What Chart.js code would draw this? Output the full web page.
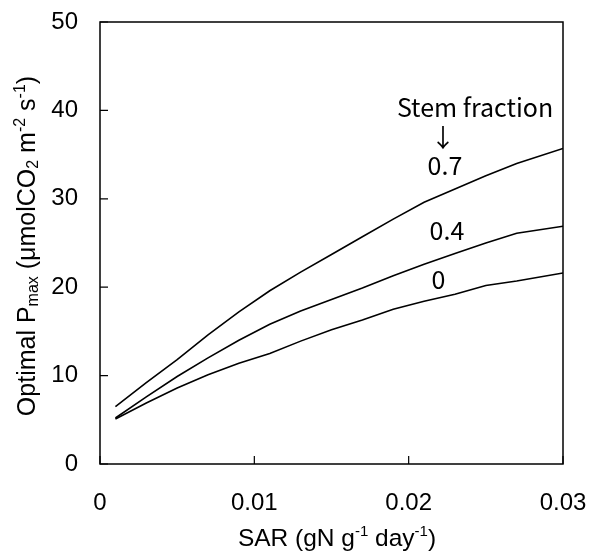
<!DOCTYPE html>
<html>
<head>
<meta charset="utf-8">
<script src="https://cdn.jsdelivr.net/npm/chart.js@4.4.1/dist/chart.umd.min.js"></script>
<style>
  html, body { margin: 0; padding: 0; background: #fff; }
  #wrap { width: 592px; height: 551px; }
</style>
</head>
<body>
<div id="wrap"><canvas id="c" width="592" height="551"></canvas></div>
<script>
// ---- data ----
const sar = [0.001, 0.003, 0.005, 0.007, 0.009, 0.011, 0.013, 0.015, 0.017, 0.019, 0.021, 0.023, 0.025, 0.027, 0.030];
const stem07 = [6.5, 9.2, 11.8, 14.6, 17.2, 19.6, 21.7, 23.7, 25.7, 27.7, 29.6, 31.1, 32.6, 34.0, 35.7];
const stem04 = [5.2, 7.6, 9.9, 12.0, 14.0, 15.8, 17.3, 18.6, 19.9, 21.3, 22.6, 23.8, 25.0, 26.1, 26.9];
const stem00 = [5.1, 6.9, 8.6, 10.1, 11.4, 12.5, 13.9, 15.2, 16.3, 17.5, 18.4, 19.2, 20.2, 20.7, 21.6];
const seriesLabels = ['0.7', '0.4', '0'];
const xTickLabels = ['0', '0.01', '0.02', '0.03'];
const yTickLabels = ['0', '10', '20', '30', '40', '50'];
const annotationTitle = 'Stem fraction';
const annotationArrow = '↓';
// label anchor positions in data units [x, y]
const labelPos = [[0.02235, 32.7], [0.02248, 25.3], [0.02193, 19.8]];
const titlePos = [0.0243, 39.25];
const arrowPos = [0.02222, 35.9];

const xTitle = [{t:'SAR (gN g'},{t:'-1',sup:true},{t:' day'},{t:'-1',sup:true},{t:')'}];
const yTitle = [{t:'Optimal P'},{t:'max',sub:true},{t:' (μmolCO'},{t:'2',sub:true},{t:' m'},{t:'-2',sup:true},{t:' s'},{t:'-1',sup:true},{t:')'}];

const toPts = (ys) => sar.map((x, i) => ({x: x, y: ys[i]}));

const FONT = '"Liberation Sans", Arial, sans-serif';
const LFONT = '"Noto Sans CJK JP", "Liberation Sans", sans-serif';

function drawRich(ctx, segs, size, x, y) {
  const small = Math.round(size * 0.62);
  let total = 0;
  segs.forEach(s => {
    ctx.font = (s.sub || s.sup ? small : size) + 'px ' + FONT;
    s.w = ctx.measureText(s.t).width;
    total += s.w;
  });
  let cx = x - total / 2;
  segs.forEach(s => {
    ctx.font = (s.sub || s.sup ? small : size) + 'px ' + FONT;
    let dy = 0;
    if (s.sup) dy = -size * 0.42;
    if (s.sub) dy = size * 0.12;
    ctx.fillText(s.t, cx, y + dy);
    cx += s.w;
  });
}

const decor = {
  id: 'decor',
  afterDraw(chart) {
    const ctx = chart.ctx;
    const a = chart.chartArea;
    const xs = chart.scales.x, ys = chart.scales.y;
    ctx.save();
    ctx.strokeStyle = '#000';
    ctx.lineWidth = 1.5;
    ctx.strokeRect(a.left, a.top, a.right - a.left, a.bottom - a.top);
    // inward ticks
    ctx.lineWidth = 1.2;
    ctx.beginPath();
    xs.ticks.forEach(t => {
      const px = xs.getPixelForValue(t.value);
      ctx.moveTo(px, a.bottom); ctx.lineTo(px, a.bottom - 8);
    });
    ys.ticks.forEach(t => {
      const py = ys.getPixelForValue(t.value);
      ctx.moveTo(a.left, py); ctx.lineTo(a.left + 8, py);
    });
    ctx.stroke();
    // axis titles
    ctx.fillStyle = '#000';
    ctx.textAlign = 'left';
    ctx.textBaseline = 'alphabetic';
    drawRich(ctx, xTitle, 24.5, 337, 546);
    ctx.save();
    ctx.translate(35, 246);
    ctx.rotate(-Math.PI / 2);
    drawRich(ctx, yTitle, 25, 0, 0);
    ctx.restore();
    // annotations
    ctx.textAlign = 'center';
    ctx.font = '25px ' + LFONT;
    ctx.fillText(annotationTitle, xs.getPixelForValue(titlePos[0]), ys.getPixelForValue(titlePos[1]));
    ctx.fillText(annotationArrow, xs.getPixelForValue(arrowPos[0]), ys.getPixelForValue(arrowPos[1]));
    seriesLabels.forEach((lab, i) => {
      ctx.fillText(lab, xs.getPixelForValue(labelPos[i][0]), ys.getPixelForValue(labelPos[i][1]));
    });
    ctx.restore();
  }
};

const ds = (label, ys) => ({
  label: label, data: toPts(ys), borderColor: '#000', borderWidth: 1.6,
  pointRadius: 0, tension: 0, fill: false
});

new Chart(document.getElementById('c'), {
  type: 'line',
  data: { datasets: [ds(seriesLabels[0], stem07), ds(seriesLabels[1], stem04), ds(seriesLabels[2], stem00)] },
  options: {
    responsive: false,
    animation: false,
    events: [],
    layout: { padding: { left: 0, right: 29, top: 22, bottom: 0 } },
    plugins: { legend: { display: false }, tooltip: { enabled: false } },
    scales: {
      x: {
        type: 'linear', min: 0, max: 0.03,
        grid: { display: false, drawTicks: false },
        border: { display: false },
        ticks: {
          stepSize: 0.01, padding: 25, color: '#000', maxRotation: 0,
          font: { family: FONT, size: 24 },
          callback: (v) => { const i = Math.round(v / 0.01); return xTickLabels[i]; }
        },
        afterFit: (s) => { s.height = 87; s.paddingLeft = 0; s.paddingRight = 0; }
      },
      y: {
        min: 0, max: 50,
        grid: { display: false, drawTicks: false },
        border: { display: false },
        ticks: {
          stepSize: 10, padding: 22, color: '#000',
          font: { family: FONT, size: 24 },
          callback: (v) => yTickLabels[Math.round(v / 10)]
        },
        afterFit: (s) => { s.width = 100; s.paddingTop = 0; s.paddingBottom = 0; }
      }
    }
  },
  plugins: [decor]
});
</script>
</body>
</html>
